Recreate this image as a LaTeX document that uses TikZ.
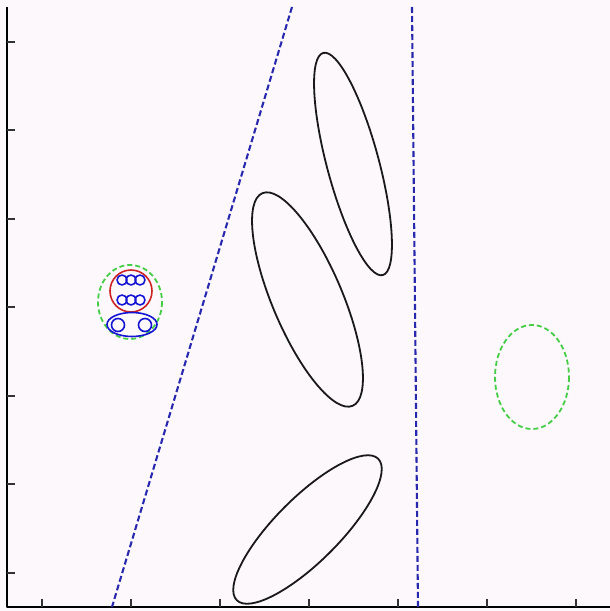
\documentclass[tikz,border=0pt]{standalone}
\usetikzlibrary{positioning}
\definecolor{plotbg}{RGB}{252,248,252}
\definecolor{wallblue}{RGB}{40,40,175}
\definecolor{agentblue}{RGB}{20,20,210}
\definecolor{zonegreen}{RGB}{70,205,70}
\definecolor{groupred}{RGB}{205,35,35}

\begin{document}
\begin{tikzpicture}[x=1pt, y=-1pt, line join=round,
  axisline/.style={line width=1.5pt, black},
  tickline/.style={line width=1.1pt, black!80},
  obstacle/.style={line width=1.8pt, black!90},
  wall/.style={line width=2.1pt, draw=wallblue, dash pattern=on 6pt off 3pt},
  zone/.style={line width=1.8pt, draw=zonegreen, dash pattern=on 5pt off 3pt},
  agent/.style={line width=1.6pt, draw=agentblue},
  group/.style={line width=1.6pt, draw=groupred}]
  \fill[plotbg] (0,0) rectangle (610,611);
  \useasboundingbox (0,0) rectangle (610,611);

  % axes
  \coordinate (origin) at (7,607);
  \draw[axisline] (7,7) -- (origin) -- (610,607);
  \foreach \t in {42,131,220,309,398,487,576}
    \draw[tickline] (\t,607) -- (\t,599);
  \foreach \t in {42,130,219,307,396,484,573}
    \draw[tickline] (7,\t) -- (15,\t);

  % walls
  \coordinate (wallA top) at (292,7);
  \coordinate (wallA bot) at (112,607);
  \coordinate (wallB top) at (412,7);
  \coordinate (wallB bot) at (418,607);
  \draw[wall] (wallA top) -- (wallA bot);
  \draw[wall] (wallB top) -- (wallB bot);

  % obstacles
  \coordinate (obsA) at (353,164);
  \coordinate (obsB) at (307.5,299.5);
  \coordinate (obsC) at (307.5,529.5);
  \draw[obstacle, rotate around={105:(obsA)}] (obsA) ellipse [x radius=115, y radius=26];
  \draw[obstacle, rotate around={113:(obsB)}] (obsB) ellipse [x radius=115.5, y radius=35];
  \draw[obstacle, rotate around={45:(obsC)}] (obsC) ellipse [x radius=100, y radius=32];

  % goal zone
  \coordinate (goal) at (532,377);
  \draw[zone] (goal) ellipse [x radius=37, y radius=52];

  % start group
  \coordinate (start) at (130,302);
  \draw[zone] (start) ellipse [x radius=32, y radius=37];
  \draw[group] (131,291) circle [radius=21];
  \foreach \cx in {122,131,140} {
    \draw[agent] (\cx,280) circle [radius=5];
    \draw[agent] (\cx,300) circle [radius=5];
  }
  \draw[agent] (132,324.5) ellipse [x radius=25, y radius=12];
  \draw[agent] (118,325) circle [radius=6.5];
  \draw[agent] (145,325) circle [radius=6.5];
\end{tikzpicture}
\end{document}
